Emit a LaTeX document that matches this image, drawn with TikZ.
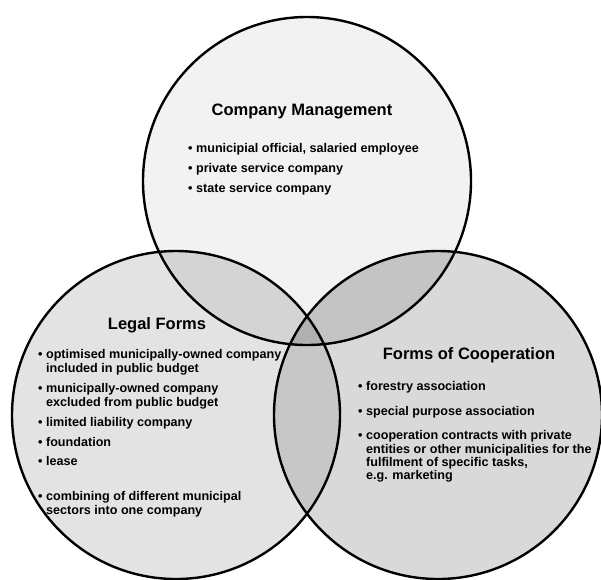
\documentclass[tikz,border=0pt]{standalone}
\usepackage{fontspec}
\setmainfont{Liberation Sans}
\begin{document}
\begin{tikzpicture}[x=1pt,y=-1pt,
  ring/.style={line width=2.4pt,draw=black},
  ttl/.style={font=\bfseries\fontsize{16.5}{18}\selectfont,inner sep=0pt},
  itm/.style={font=\bfseries\fontsize{12.6}{13.6}\selectfont,anchor=base west,inner sep=0pt}]
\useasboundingbox (0,0) rectangle (601,579);
\def\R{164}
\coordinate (T) at (307,181);
\coordinate (L) at (176,415);
\coordinate (Rc) at (438,415);
\definecolor{cT}{gray}{0.95}
\definecolor{cL}{gray}{0.89}
\definecolor{cR}{gray}{0.85}
\definecolor{cTL}{gray}{0.83}
\definecolor{cTR}{gray}{0.77}
\definecolor{cLR}{gray}{0.78}
\definecolor{cTLR}{gray}{0.69}
\fill[cT] (T) circle (\R);
\fill[cL] (L) circle (\R);
\fill[cR] (Rc) circle (\R);
\begin{scope}\clip (T) circle (\R); \fill[cTL] (L) circle (\R); \fill[cTR] (Rc) circle (\R); \end{scope}
\begin{scope}\clip (L) circle (\R); \fill[cLR] (Rc) circle (\R); \end{scope}
\begin{scope}\clip (T) circle (\R); \clip (L) circle (\R); \fill[cTLR] (Rc) circle (\R); \end{scope}
\draw[ring] (T) circle (\R);
\draw[ring] (L) circle (\R);
\draw[ring] (Rc) circle (\R);
% top
\node[ttl] (t1) at (302,111) {Company Management};
\node[itm] (t2) at (188,152) {• municipial official, salaried employee};
\node[itm] (t3) at (188,172) {• private service company};
\node[itm] (t4) at (188,192) {• state service company};
% left
\node[ttl] (l1) at (157,325) {Legal Forms};
\node[itm] (l2) at (38,358) {• optimised municipally-owned company};
\node[itm] (l2b) at (38,372) {\hphantom{• }included in public budget};
\node[itm] (l3) at (38,392) {• municipally-owned company};
\node[itm] (l3b) at (38,406) {\hphantom{• }excluded from public budget};
\node[itm] (l4) at (38,426) {• limited liability company};
\node[itm] (l5) at (38,446) {• foundation};
\node[itm] (l6) at (38,465) {• lease};
\node[itm] (l7) at (38,500) {• combining of different municipal};
\node[itm] (l7b) at (38,514) {\hphantom{• }sectors into one company};
% right
\node[ttl] (r1) at (469,355) {Forms of Cooperation};
\node[itm] (r2) at (358,390) {• forestry association};
\node[itm] (r3) at (358,415) {• special purpose association};
\node[itm] (r4) at (358,439) {• cooperation contracts with private};
\node[itm] (r4b) at (358,453) {\hphantom{• }entities or other municipalities for the};
\node[itm] (r4c) at (358,466) {\hphantom{• }fulfilment of specific tasks,};
\node[itm] (r4d) at (358,479) {\hphantom{• }e.g. marketing};
\end{tikzpicture}
\end{document}
